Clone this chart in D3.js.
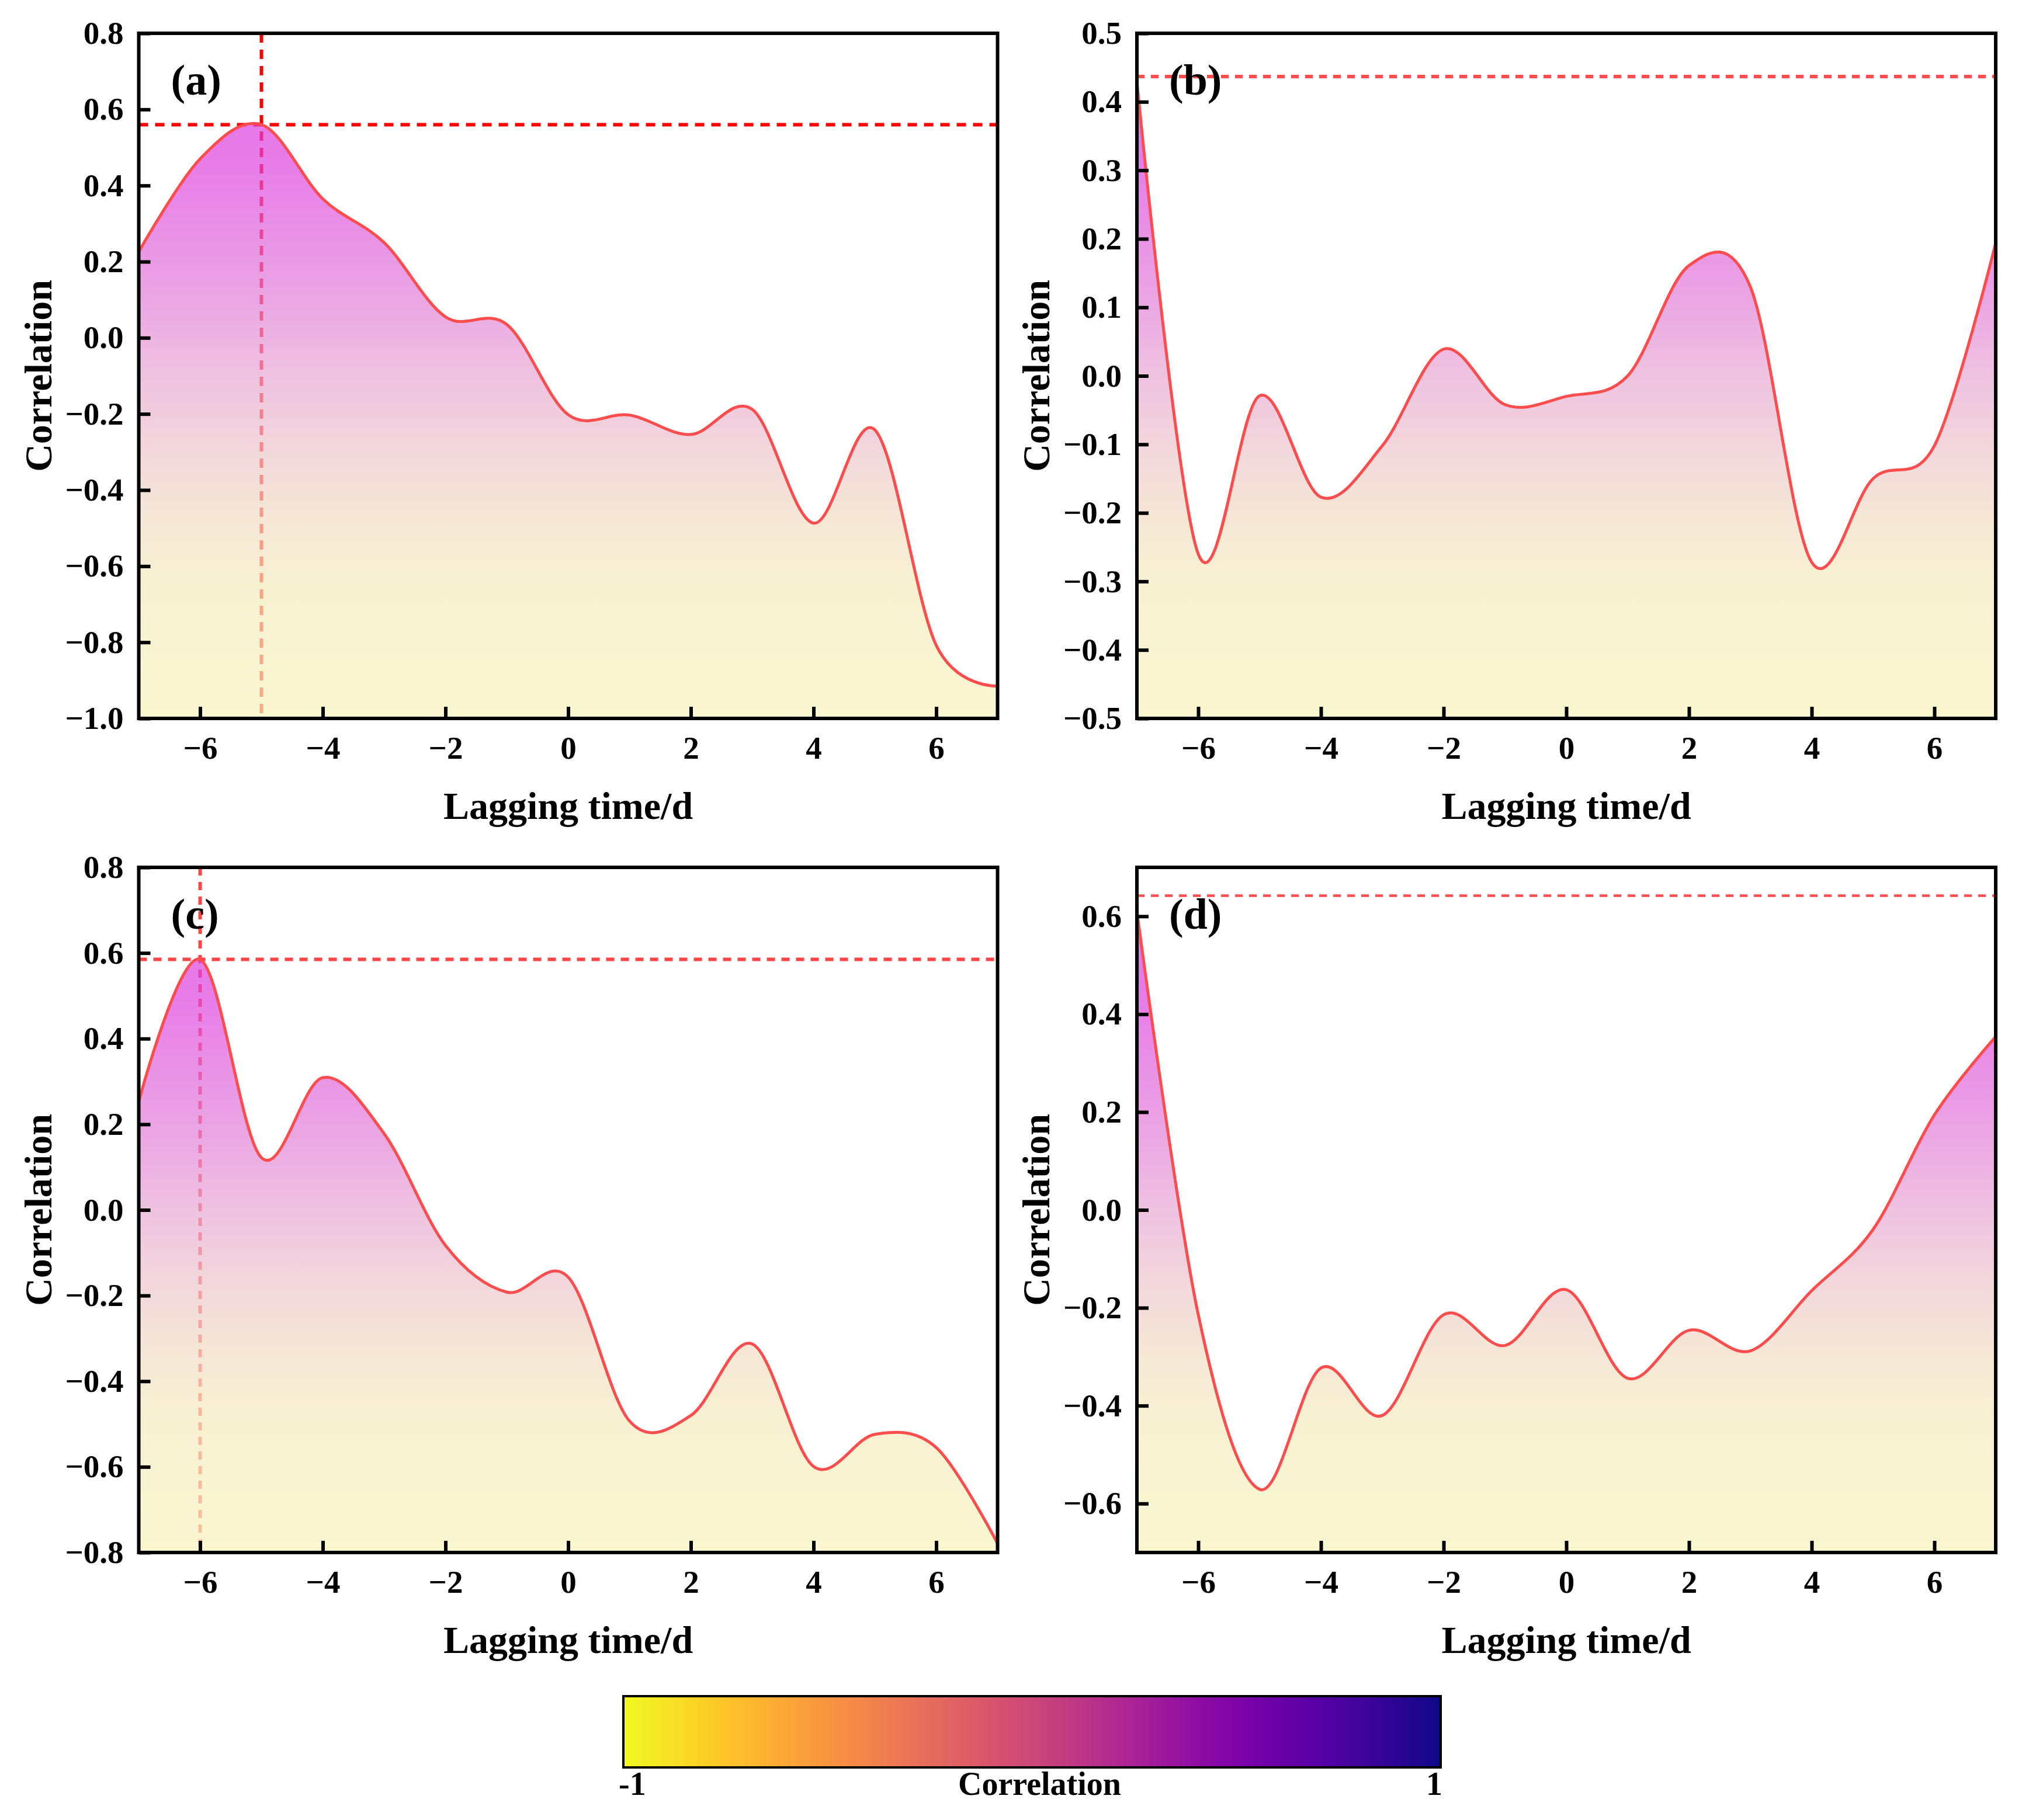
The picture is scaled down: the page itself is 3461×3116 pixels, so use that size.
<!DOCTYPE html>
<html>
<head>
<meta charset="utf-8">
<script src="https://cdn.jsdelivr.net/npm/d3@7"></script>
<style>
body { margin: 0; background: #ffffff; }
text { font-family: "Liberation Serif", "Times New Roman", serif; font-weight: bold; fill: #000000; }
</style>
</head>
<body>
<svg id="my-chart-svg"></svg>
<script>
'use strict';

//------------------------------------------------------------
// data (lag in days, correlation)
//------------------------------------------------------------
const lagList = [-7, -6, -5, -4, -3, -2, -1, 0, 1, 2, 3, 4, 5, 6, 7];

const corrA = [0.226, 0.47, 0.56, 0.365, 0.25, 0.055, 0.035, -0.202, -0.203, -0.254, -0.188, -0.487, -0.242, -0.808, -0.915];
const corrB = [0.43, -0.26, -0.029, -0.177, -0.102, 0.039, -0.042, -0.030, 0.0, 0.161, 0.13, -0.272, -0.150, -0.102, 0.194];
const corrC = [0.253, 0.585, 0.122, 0.309, 0.178, -0.083, -0.192, -0.157, -0.493, -0.480, -0.313, -0.599, -0.524, -0.555, -0.779];
const corrD = [0.61, -0.214, -0.571, -0.323, -0.420, -0.214, -0.277, -0.163, -0.344, -0.246, -0.288, -0.165, -0.040, 0.194, 0.354];

const panelNames = ["(a)", "(b)", "(c)", "(d)"];

// y ranges and ticks of each panel
const yDomainList = [[-1.0, 0.8], [-0.5, 0.5], [-0.8, 0.8], [-0.7, 0.7]];
const yTicksA = [-1.0, -0.8, -0.6, -0.4, -0.2, 0.0, 0.2, 0.4, 0.6, 0.8];
const yTicksB = [-0.5, -0.4, -0.3, -0.2, -0.1, 0.0, 0.1, 0.2, 0.3, 0.4, 0.5];
const yTicksC = [-0.8, -0.6, -0.4, -0.2, 0.0, 0.2, 0.4, 0.6, 0.8];
const yTicksD = [-0.6, -0.4, -0.2, 0.0, 0.2, 0.4, 0.6];
const xTicks = [-6, -4, -2, 0, 2, 4, 6];

// marked maximum: lag (null = no vertical line) and correlation
const peakLagList = [-5, null, -6, null];
const peakCorrList = [0.56, 0.437, 0.585, 0.642];

const colorbarLabels = ["-1", "Correlation", "1"];

{ // start scope

//------------------------------------------------------------
// define chart manager class
//------------------------------------------------------------
function ChartManager() {
    this.plotWidth = 3461;
    this.plotHeight = 3116;

    this.svg = null;
    this.defs = null;

    this.panelBoxes = [
        {left: 237.5, right: 1707.5, top: 57,   bottom: 1230},
        {left: 1946,  right: 3416,   top: 57,   bottom: 1230},
        {left: 237.5, right: 1707.5, top: 1485, bottom: 2658},
        {left: 1946,  right: 3416,   top: 1485, bottom: 2658}
    ];

    this.dashStyles = [
        {color: "#ff0000", width: 6,   dash: "16,12"},
        {color: "#ff4d4d", width: 6,   dash: "13,11"},
        {color: "#ff4545", width: 6,   dash: "14,11"},
        {color: "#ff5050", width: 4.5, dash: "13,11"}
    ];

    // vertical fill gradient (drawn with alpha over white)
    this.fillStops = [
        [0.00, "rgb(219,51,224)"],
        [0.19, "rgb(222,68,222)"],
        [0.39, "rgb(226,128,216)"],
        [0.50, "rgb(232,168,211)"],
        [0.60, "rgb(236,196,205)"],
        [0.70, "rgb(241,219,197)"],
        [0.80, "rgb(244,234,191)"],
        [1.00, "rgb(246,245,188)"]
    ];
    this.fillOpacity = 0.7;

    this.lineColor = "#ff4d4d";

    // smooth curve through the daily values
    this.curveType = d3.curveCardinal.tension(0);

    this.initialize = () => {
        this.svg = d3.select("#my-chart-svg")
            .attr("width", this.plotWidth)
            .attr("height", this.plotHeight)
            .style("display", "block");

        this.defs = this.svg.append("defs");

        const seriesList = [corrA, corrB, corrC, corrD];
        const yTickSets = [yTicksA, yTicksB, yTicksC, yTicksD];

        for (let i = 0; i < 4; ++i)
        {
            this.drawPanel(i, seriesList[i], yTickSets[i]);
        }

        this.drawColorbar();
    };

    this.drawPanel = (idx, series, yTickValues) => {
        const box = this.panelBoxes[idx];
        const g = this.svg.append("g");

        const xScale = d3.scaleLinear().domain([-7, 7]).range([box.left, box.right]);
        const yScale = d3.scaleLinear().domain(yDomainList[idx]).range([box.bottom, box.top]);

        // clip path for plot area
        const clipId = "clip-" + idx;
        this.defs.append("clipPath").attr("id", clipId)
            .append("rect")
            .attr("x", box.left).attr("y", box.top)
            .attr("width", box.right - box.left)
            .attr("height", box.bottom - box.top);

        // gradient for area fill
        const gradId = "fill-grad-" + idx;
        const grad = this.defs.append("linearGradient").attr("id", gradId)
            .attr("gradientUnits", "userSpaceOnUse")
            .attr("x1", 0).attr("x2", 0)
            .attr("y1", box.top).attr("y2", box.bottom);
        grad.selectAll("stop")
            .data(this.fillStops)
            .enter()
            .append("stop")
            .attr("offset", (d) => d[0])
            .attr("stop-color", (d) => d[1])
            .attr("stop-opacity", this.fillOpacity);

        const inner = g.append("g").attr("clip-path", `url(#${clipId})`);

        // dashed marker lines (underneath the fill)
        const ds = this.dashStyles[idx];
        if (peakLagList[idx] !== null)
        {
            inner.append("line")
                .attr("x1", xScale(peakLagList[idx])).attr("x2", xScale(peakLagList[idx]))
                .attr("y1", box.top).attr("y2", box.bottom)
                .style("stroke", ds.color)
                .style("stroke-width", ds.width)
                .style("stroke-dasharray", ds.dash);
        }
        inner.append("line")
            .attr("x1", box.left).attr("x2", box.right)
            .attr("y1", yScale(peakCorrList[idx])).attr("y2", yScale(peakCorrList[idx]))
            .style("stroke", ds.color)
            .style("stroke-width", ds.width)
            .style("stroke-dasharray", ds.dash);

        const points = lagList.map((lag, k) => [lag, series[k]]);

        const areaGen = d3.area()
            .x((d) => xScale(d[0]))
            .y0(box.bottom)
            .y1((d) => yScale(d[1]))
            .curve(this.curveType);

        const lineGen = d3.line()
            .x((d) => xScale(d[0]))
            .y((d) => yScale(d[1]))
            .curve(this.curveType);

        inner.append("path")
            .attr("d", areaGen(points))
            .style("fill", `url(#${gradId})`)
            .style("stroke", "none");

        inner.append("path")
            .attr("d", lineGen(points))
            .style("fill", "none")
            .style("stroke", this.lineColor)
            .style("stroke-width", 5)
            .style("stroke-linejoin", "round");

        // axes (inward ticks)
        const xAxis = d3.axisBottom(xScale)
            .tickValues(xTicks)
            .tickFormat(d3.format("d"))
            .tickSize(-20)
            .tickPadding(30);

        const yAxis = d3.axisLeft(yScale)
            .tickValues(yTickValues)
            .tickFormat(d3.format(".1f"))
            .tickSize(-20)
            .tickPadding(26);

        const gx = g.append("g")
            .attr("transform", `translate(0,${box.bottom})`)
            .call(xAxis);
        const gy = g.append("g")
            .attr("transform", `translate(${box.left},0)`)
            .call(yAxis);

        [gx, gy].forEach((ax) => {
            ax.select(".domain").remove();
            ax.selectAll(".tick line")
                .style("stroke", "#000000")
                .style("stroke-width", 6);
            ax.selectAll(".tick text")
                .attr("font-family", "\"Liberation Serif\", \"Times New Roman\", serif")
                .attr("font-weight", "bold")
                .attr("font-size", 55)
                .attr("fill", "#000000");
        });

        // frame
        g.append("rect")
            .attr("x", box.left).attr("y", box.top)
            .attr("width", box.right - box.left)
            .attr("height", box.bottom - box.top)
            .style("fill", "none")
            .style("stroke", "#000000")
            .style("stroke-width", 6);

        // labels
        g.append("text")
            .attr("transform", `translate(${box.left - 150},${(box.top + box.bottom) / 2}) rotate(-90)`)
            .attr("text-anchor", "middle")
            .attr("font-size", 66)
            .text("Correlation");

        g.append("text")
            .attr("x", (box.left + box.right) / 2)
            .attr("y", box.bottom + 172)
            .attr("text-anchor", "middle")
            .attr("font-size", 66)
            .text("Lagging time/d");

        g.append("text")
            .attr("x", box.left + 55)
            .attr("y", box.top + 105)
            .attr("font-size", 74)
            .text(panelNames[idx]);
    };

    this.drawColorbar = () => {
        const cb = {left: 1067, right: 2466, top: 2904, bottom: 3026};

        // plasma reversed: -1 yellow, 1 dark blue
        const cbScale = d3.scaleLinear().domain([-1, 1]).range([cb.left, cb.right]);
        const stopVals = d3.range(0, 1.0001, 0.05);

        const grad = this.defs.append("linearGradient").attr("id", "cbar-grad")
            .attr("x1", "0%").attr("x2", "100%")
            .attr("y1", "0%").attr("y2", "0%");
        grad.selectAll("stop")
            .data(stopVals)
            .enter()
            .append("stop")
            .attr("offset", (d) => d)
            .attr("stop-color", (d) => d3.interpolatePlasma(1 - d));

        this.svg.append("rect")
            .attr("x", cbScale(-1)).attr("y", cb.top)
            .attr("width", cbScale(1) - cbScale(-1))
            .attr("height", cb.bottom - cb.top)
            .style("fill", "url(#cbar-grad)")
            .style("stroke", "#000000")
            .style("stroke-width", 4);

        const baseY = 3073;
        this.svg.append("text")
            .attr("x", cbScale(-1) - 8).attr("y", baseY)
            .attr("text-anchor", "start")
            .attr("font-size", 56)
            .text(colorbarLabels[0]);
        this.svg.append("text")
            .attr("x", (cbScale(-1) + cbScale(1)) / 2 + 13).attr("y", baseY)
            .attr("text-anchor", "middle")
            .attr("font-size", 56)
            .text(colorbarLabels[1]);
        this.svg.append("text")
            .attr("x", cbScale(1) + 3).attr("y", baseY)
            .attr("text-anchor", "end")
            .attr("font-size", 56)
            .text(colorbarLabels[2]);
    };
}

//------------------------------------------------------------
// main onload event
//------------------------------------------------------------
window.addEventListener("load", (event) => {
    let cm = new ChartManager();
    cm.initialize();
});

} // end scope
</script>
</body>
</html>
